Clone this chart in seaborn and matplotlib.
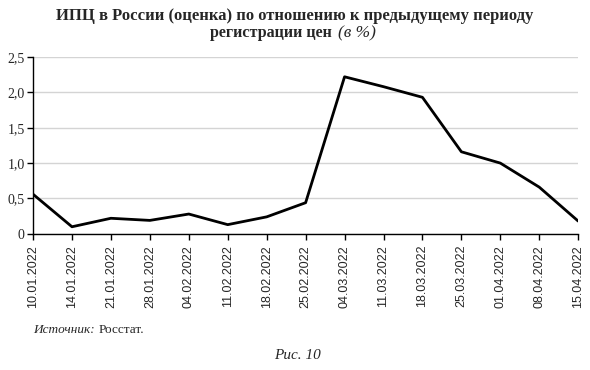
import numpy as np
import pandas as pd
import seaborn as sns
import matplotlib.pyplot as plt
from matplotlib.ticker import FuncFormatter

# Data
dates = ["10.01.2022", "14.01.2022", "21.01.2022", "28.01.2022", "04.02.2022",
         "11.02.2022", "18.02.2022", "25.02.2022", "04.03.2022", "11.03.2022",
         "18.03.2022", "25.03.2022", "01.04.2022", "08.04.2022", "15.04.2022"]
cpi = [0.56, 0.10, 0.22, 0.19, 0.28, 0.13, 0.24, 0.44, 2.22, 2.08,
       1.93, 1.16, 1.00, 0.66, 0.18]
y_ticks = [0, 0.5, 1.0, 1.5, 2.0, 2.5]

df = pd.DataFrame({"date": dates, "cpi": cpi})
df["pos"] = np.arange(len(df))

sns.set_style("white")
plt.rcParams['font.family'] = ['Liberation Serif', 'DejaVu Serif']

fig = plt.figure(figsize=(5.9, 3.7), dpi=100)
ax = fig.add_axes([0.056, 0.368, 0.924, 0.478])

sns.lineplot(data=df, x="pos", y="cpi", color="black", linewidth=2, ax=ax)

ax.set_xlim(0, len(dates) - 1)
ax.set_ylim(0, 2.5)
ax.set_yticks(y_ticks)
ax.yaxis.set_major_formatter(FuncFormatter(
    lambda v, p: "0" if v == 0 else f"{v:.1f}".replace(".", ",")))
ax.set_xticks(df["pos"])
ax.set_xticklabels(dates, rotation=90, family="Liberation Sans", fontsize=9)
ax.tick_params(axis="y", labelsize=10, length=4, width=1, color="black", pad=2)
ax.tick_params(axis="x", length=4, width=1, color="black", pad=4)
ax.xaxis.set_ticks_position("bottom")
ax.yaxis.set_ticks_position("left")
ax.set_xlabel("")
ax.set_ylabel("")

ax.grid(axis="y", color="#d4d4d4", linewidth=1)
ax.set_axisbelow(True)
sns.despine(ax=ax)
for s in ["left", "bottom"]:
    ax.spines[s].set_color("black")
    ax.spines[s].set_linewidth(1)

# Title (second line mixes bold and italic)
fig.text(0.5, 0.957, "ИПЦ в России (оценка) по отношению к предыдущему периоду",
         ha="center", va="center", fontsize=12, fontweight="bold")
fig.text(332 / 590, 0.91, "регистрации цен", ha="right", va="center",
         fontsize=11.5, fontweight="bold")
fig.text(338 / 590, 0.91, "(в %)", ha="left", va="center",
         fontsize=12.5, style="italic")

# Source line: italic label, then plain text right after it
src = fig.text(33 / 590, 0.108, "Источник:", ha="left", va="center",
               fontsize=9.5, style="italic")
fig.canvas.draw()
bb = src.get_window_extent(renderer=fig.canvas.get_renderer())
fig.text((bb.x1 + 4) / fig.bbox.width, 0.108, "Росстат.", ha="left",
         va="center", fontsize=9.5)

fig.text(297 / 590, 0.04, "Рис. 10", ha="center", va="center",
         fontsize=11, style="italic")

fig.savefig("out.png", dpi=100)
